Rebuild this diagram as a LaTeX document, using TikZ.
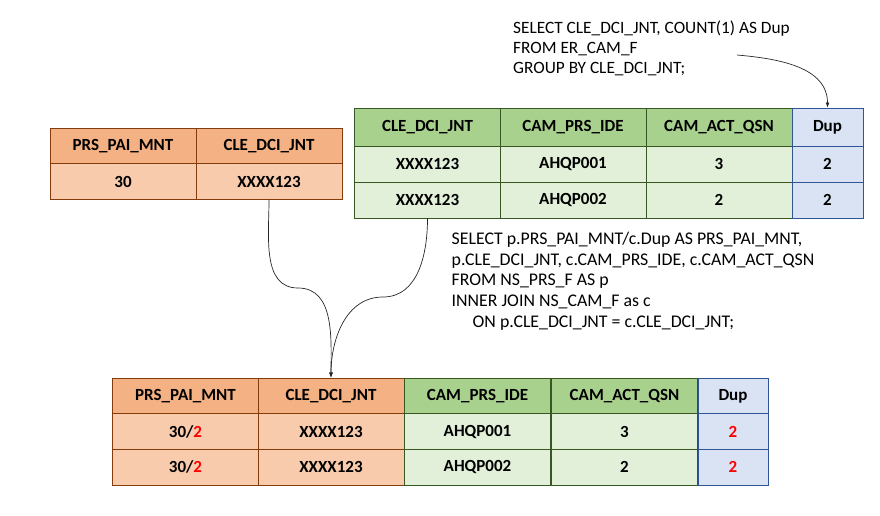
\documentclass[tikz,border=0pt]{standalone}
\usepackage{fontspec}
\setmainfont{Carlito}
\usepackage{xcolor}
\usetikzlibrary{arrows.meta}
\definecolor{orHead}{HTML}{F4B183}
\definecolor{orCell}{HTML}{F8CBAD}
\definecolor{orLine}{HTML}{843C0C}
\definecolor{grHead}{HTML}{A9D18E}
\definecolor{grCell}{HTML}{E2F0D9}
\definecolor{grLine}{HTML}{385723}
\definecolor{blCell}{HTML}{DAE3F3}
\definecolor{blLine}{HTML}{2F5597}
\begin{document}
\begin{tikzpicture}[x=1pt,y=-1pt,
  every node/.style={inner sep=0pt,font=\fontsize{17}{19}\selectfont\bfseries},
  cell/.style={draw,line width=0.9pt,minimum width=146pt,minimum height=36pt},
  ohead/.style={cell,fill=orHead,draw=orLine},
  ocell/.style={cell,fill=orCell,draw=orLine},
  ghead/.style={cell,fill=grHead,draw=grLine},
  gcell/.style={cell,fill=grCell,draw=grLine},
  bcell/.style={cell,fill=blCell,draw=blLine,minimum width=71pt},
  sql/.style={align=left,font=\fontsize{17.8}{20.7}\selectfont},
  link/.style={-{Latex[length=5pt,width=4pt]},line width=0.7pt,black!85}]
\useasboundingbox (0,0) rectangle (880,516);
% left table (p)
\node[ohead] (prsH1) at (123,146) {PRS\_PAI\_MNT};
\node[ohead] (prsH2) at (269,146) {CLE\_DCI\_JNT};
\node[ocell] (prs11) at (123,181.5) {30};
\node[ocell] (prs12) at (269,181.5) {XXXX123};
% right table (c)
\node[ghead,minimum height=38pt] (camH1) at (427.5,127) {CLE\_DCI\_JNT};
\node[ghead,minimum height=38pt] (camH2) at (573,127) {CAM\_PRS\_IDE};
\node[ghead,minimum height=38pt] (camH3) at (719,127) {CAM\_ACT\_QSN};
\node[bcell,minimum height=38pt] (camH4) at (827.5,127) {Dup};
\node[gcell] (cam11) at (427.5,164) {XXXX123};
\node[gcell] (cam12) at (573,164) {AHQP001};
\node[gcell] (cam13) at (719,164) {3};
\node[bcell] (cam14) at (827.5,164) {2};
\node[gcell] (cam21) at (427.5,200) {XXXX123};
\node[gcell] (cam22) at (573,200) {AHQP002};
\node[gcell] (cam23) at (719,200) {2};
\node[bcell] (cam24) at (827.5,200) {2};
% result table
\node[ohead] (resH1) at (185.5,396) {PRS\_PAI\_MNT};
\node[ohead] (resH2) at (331,396) {CLE\_DCI\_JNT};
\node[ghead] (resH3) at (477.5,396) {CAM\_PRS\_IDE};
\node[ghead] (resH4) at (624.5,396) {CAM\_ACT\_QSN};
\node[bcell,minimum width=70pt] (resH5) at (733,396) {Dup};
\node[ocell] (res11) at (185.5,431.5) {30/\textcolor{red}{2}};
\node[ocell] (res12) at (331,431.5) {XXXX123};
\node[gcell] (res13) at (477.5,431.5) {AHQP001};
\node[gcell] (res14) at (624.5,431.5) {3};
\node[bcell,minimum width=70pt] (res15) at (733,431.5) {\textcolor{red}{2}};
\node[ocell] (res21) at (185.5,467) {30/\textcolor{red}{2}};
\node[ocell] (res22) at (331,467) {XXXX123};
\node[gcell] (res23) at (477.5,467) {AHQP002};
\node[gcell] (res24) at (624.5,467) {2};
\node[bcell,minimum width=70pt] (res25) at (733,467) {\textcolor{red}{2}};
% queries
\node[sql,font=\fontsize{17.3}{20}\selectfont,anchor=north west] (dupSql) at (513,20.5) {SELECT CLE\_DCI\_JNT, COUNT(1) AS Dup\\FROM ER\_CAM\_F\\GROUP BY CLE\_DCI\_JNT;};
\node[sql,anchor=north west] (joinSql) at (451.5,232) {SELECT p.PRS\_PAI\_MNT/c.Dup AS PRS\_PAI\_MNT,\\p.CLE\_DCI\_JNT, c.CAM\_PRS\_IDE, c.CAM\_ACT\_QSN\\FROM NS\_PRS\_F AS p\\INNER JOIN NS\_CAM\_F as c\\\hspace*{21pt}ON p.CLE\_DCI\_JNT = c.CLE\_DCI\_JNT;};
% connectors
\coordinate (dupTail) at (737,55);
\coordinate (bendP) at (298,288);
\coordinate (bendC) at (383,297);
\draw[link] (dupTail) to[out=-5,in=90] (camH4.north);
\draw[link] (prs12.south) to[out=-90,in=180] (bendP) to[out=0,in=90] (resH2.north);
\draw[link] (cam21.south) to[out=-90,in=0] (bendC) to[out=180,in=90] (resH2.north);
\end{tikzpicture}
\end{document}
